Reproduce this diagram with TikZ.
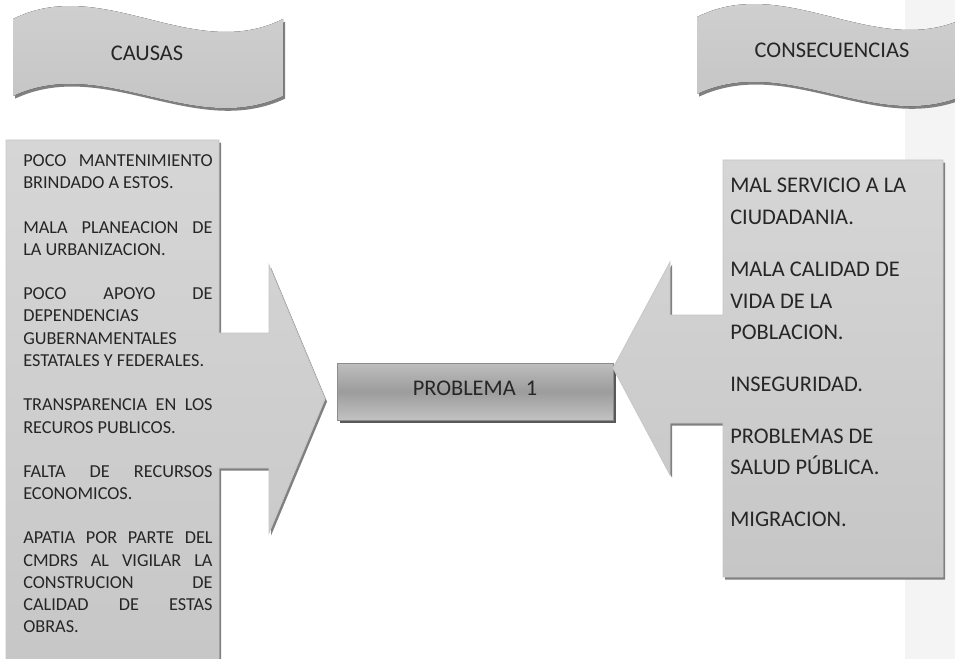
\documentclass[tikz,border=0pt]{standalone}
\usepackage{fontspec}
\setmainfont{Carlito}
\usetikzlibrary{shadows}

\definecolor{bandgray}{HTML}{F4F4F4}
\definecolor{boxtop}{HTML}{D6D6D6}
\definecolor{boxbot}{HTML}{C6C6C6}
\definecolor{bannertop}{HTML}{D2D2D2}
\definecolor{bannerbot}{HTML}{C2C2C2}
\definecolor{probtop}{HTML}{BEBEBE}
\definecolor{probmid}{HTML}{9C9C9C}
\definecolor{probbot}{HTML}{C2C2C2}
\definecolor{shadowgray}{HTML}{808080}
\definecolor{textgray}{HTML}{262626}

% a line stretched to the full width of the box
\newcommand{\jline}[1]{\makebox[\linewidth][s]{#1}}

\tikzset{
  boxshadow/.style={drop shadow={shadow xshift=1.5pt, shadow yshift=-2pt, fill=shadowgray, opacity=1}},
  panel/.style={top color=boxtop, bottom color=boxbot, draw=black!22, line width=0.6pt, boxshadow},
  smalltext/.style={font=\fontsize{13.7}{16.7}\selectfont, text=textgray, inner sep=0pt, align=flush left, text width=142pt},
  bigtext/.style={font=\fontsize{16.8}{23.8}\selectfont, text=textgray, inner sep=0pt},
  probbox/.style={bigtext, minimum width=207pt, minimum height=42.75pt, text depth=5.25pt,
    top color=probtop, bottom color=probbot, middle color=probmid, draw=black!45, line width=0.6pt,
    drop shadow={shadow xshift=2pt, shadow yshift=-2pt, fill=black!65, opacity=1}},
  banner/.pic={
    \fill[top color=bannertop, bottom color=bannerbot, boxshadow]
      (0,0) .. controls (90,-45) and (180,45) .. (270,0)
      -- (270,77) .. controls (180,119) and (90,35) .. (0,77) -- cycle;
  }
}

\begin{document}
\begin{tikzpicture}[x=0.75pt, y=-0.75pt]
  \useasboundingbox (0,0) rectangle (955,659);
  \fill[bandgray] (905,0) rectangle (955,659);

  % headings
  \pic at (13,19) {banner};
  \pic at (697,17) {banner};
  \node[bigtext] (causas) at (147,53) {CAUSAS};
  \node[bigtext] (consecuencias) at (832,50) {CONSECUENCIAS};

  \node[probbox] (problema) at (475,391.5) {PROBLEMA\ \ 1};

  % causes box with its arrow
  \draw[panel] (6,140) -- (219,140) -- (219,333) -- (269,333) -- (269,265)
    -- (325,399) -- (269,533) -- (269,468) -- (219,468) -- (219,690)
    -- (6,690) -- cycle;

  % consequences box with its arrow
  \draw[panel] (943,160) -- (723,160) -- (723,315) -- (670,315) -- (670,262)
    -- (613,368) -- (670,475) -- (670,423) -- (723,423) -- (723,577)
    -- (943,577) -- cycle;

  \node[smalltext, anchor=north west] (causaslist) at (23,154.5) {%
    \jline{POCO MANTENIMIENTO}\\
    BRINDADO A ESTOS.\\[16.5pt]
    \jline{MALA PLANEACION DE}\\
    LA URBANIZACION.\\[16.5pt]
    \jline{POCO APOYO DE}\\
    DEPENDENCIAS\\
    GUBERNAMENTALES\\
    ESTATALES Y FEDERALES.\\[16.5pt]
    \jline{TRANSPARENCIA EN LOS}\\
    RECUROS PUBLICOS.\\[16.5pt]
    \jline{FALTA DE RECURSOS}\\
    ECONOMICOS.\\[16.5pt]
    \jline{APATIA POR PARTE DEL}\\
    \jline{CMDRS AL VIGILAR LA}\\
    \jline{CONSTRUCION DE}\\
    \jline{CALIDAD DE ESTAS}\\
    OBRAS.};

  \node[bigtext, anchor=north west, align=left] (consecuenciaslist) at (730,178) {%
    MAL SERVICIO A LA\\
    CIUDADANIA.\\[15pt]
    MALA CALIDAD DE\\
    VIDA DE LA\\
    POBLACION.\\[15pt]
    INSEGURIDAD.\\[15pt]
    PROBLEMAS DE\\
    SALUD PÚBLICA.\\[15pt]
    MIGRACION.};
\end{tikzpicture}
\end{document}
